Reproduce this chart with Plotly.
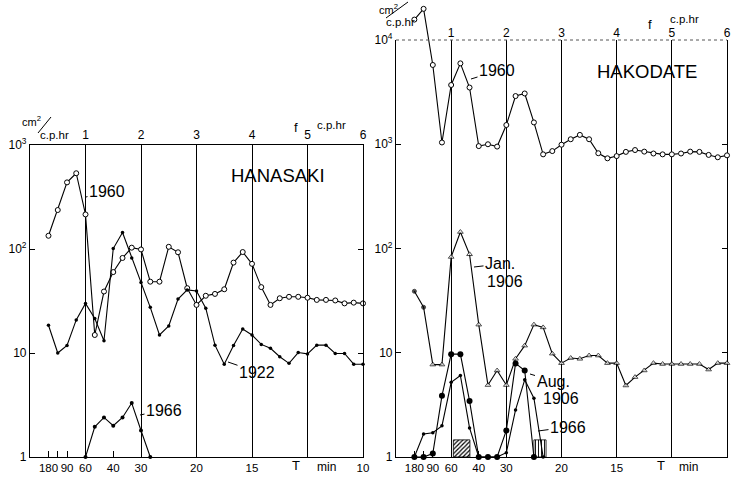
import plotly.graph_objects as go

# ---------------- data ----------------
# frequency grid (c.p.hr)
freq = [0.333, 0.5, 0.667, 0.833, 1.0, 1.167, 1.333, 1.5, 1.667, 1.833, 2.0, 2.167,
        2.333, 2.5, 2.667, 2.833, 3.0, 3.167, 3.333, 3.5, 3.667, 3.833, 4.0, 4.167,
        4.333, 4.5, 4.667, 4.833, 5.0, 5.167, 5.333, 5.5, 5.667, 5.833, 6.0]

# HANASAKI (cm^2 / c.p.hr)
han_1960 = [134, 237, 437, 535, 215, 14.9, 39, 60, 82, 103, 99, 48.5, 48.5, 105, 93, 42,
            29, 35.5, 37, 41, 74, 93.5, 72, 43, 29, 33.6, 34.7, 34.7, 34, 32.4, 32.4, 32,
            30, 30.5, 30]
han_1922 = [18.5, 10, 11.8, 20.8, 30, 21.5, 13.1, 101, 144, 82, 47.5, 27.5, 14.9, 18.2, 33,
            40.4, 39.5, 27, 11.9, 7.8, 11.8, 17, 14.9, 12.1, 11.1, 9.2, 7.95, 10.1, 9.8,
            11.9, 11.9, 9.9, 9.9, 7.8, 7.8]
han_1966_freq = [1.0, 1.167, 1.333, 1.5, 1.667, 1.833, 2.0, 2.167]
han_1966 = [1, 1.95, 2.4, 2.0, 2.4, 3.3, 1.8, 1]

# HAKODATE (cm^2 / c.p.hr)
hak_1960 = [15700, 19900, 5760, 1040, 3700, 5970, 3500, 960, 1000, 950, 1530, 2900, 3070,
            1620, 800, 860, 990, 1117, 1230, 1117, 820, 733, 770, 845, 880, 850, 815, 800,
            800, 815, 850, 845, 790, 750, 783]
hak_jan1906 = [38.9, 27.3, 7.7, 7.7, 83, 144, 88, 18.6, 4.9, 6.75, 4.9, 8.75, 11.7, 18.6,
               17.5, 9.8, 7.95, 8.9, 8.75, 9.4, 9.4, 7.95, 7.95, 4.85, 5.84, 6.76, 7.95,
               7.8, 7.8, 7.8, 7.8, 7.8, 6.9, 7.95, 7.95]
hak_aug1906_freq = freq[:14]
hak_aug1906 = [1, 1, 1.08, 3.86, 9.7, 9.7, 3.45, 1, 1, 1, 1.8, 7.9, 6.75, 1]
hak_1966_freq = freq[:15]
hak_1966 = [1, 1.66, 1.71, 1.99, 5.2, 6.05, 1.9, 1, 1, 1, 1.1, 2.83, 5.5, 3.66, 1]

# hatched boxes in HAKODATE panel
hatch_freq = [1.19, 2.61]
hatch_width = [0.3, 0.22]
hatch_top = [1.46, 1.46]

# axis ticks
period_freq = [0.333, 0.5, 0.667, 1.0, 1.5, 2.0, 3.0, 4.0, 6.0]
period_labels = ['180', '', '90', '60', '40', '30', '20', '15', '10']
freq_ticks = [1, 2, 3, 4, 5, 6]
freq_labels = ['1', '2', '3', '4', '5', '6']
han_yvals = [1, 10, 100, 1000]
han_ylabels = ['1', '10', '10<sup>2</sup>', '10<sup>3</sup>']
hak_yvals = [1, 10, 100, 1000, 10000]
hak_ylabels = ['1', '10', '10<sup>2</sup>', '10<sup>3</sup>', '10<sup>4</sup>']

# ---------------- layout geometry ----------------
W, H = 733, 479
ML, MR, MT, MB = 30, 6, 2, 22
PW = W - ML - MR
PH = H - MT - MB
BOTTOM = H - MB


def px(x):
    return (x - ML) / PW


def py(y):
    return (BOTTOM - y) / PH


xd1 = [0, px(363)]
xd2 = [px(396), 1]
yd1 = [0, py(145)]
yd2 = [0, py(40)]
y5_top = 4 / yd2[1]

FONT = 'Liberation Sans, Arial, sans-serif'
BLACK = 'black'

fig = go.Figure()

line = dict(color=BLACK, width=1.1)
open_circle = dict(symbol='circle', size=5, color='white', line=dict(color=BLACK, width=1))
small_dot = dict(symbol='circle', size=3.5, color=BLACK)


def sc(x, y, marker, xa, ya):
    return go.Scatter(x=x, y=y, mode='lines+markers', line=line, marker=marker,
                      xaxis=xa, yaxis=ya, cliponaxis=False, showlegend=False,
                      hoverinfo='skip')


# dummy traces to make frame subplots exist
fig.add_trace(go.Scatter(x=[None], y=[None], xaxis='x3', yaxis='y', showlegend=False))
fig.add_trace(go.Scatter(x=[None], y=[None], xaxis='x2', yaxis='y2', showlegend=False))
fig.add_trace(go.Scatter(x=[None], y=[None], xaxis='x4', yaxis='y2', showlegend=False))

# HANASAKI
fig.add_trace(sc(freq, han_1960, open_circle, 'x', 'y'))
fig.add_trace(sc(freq, han_1922, small_dot, 'x', 'y'))
fig.add_trace(sc(han_1966_freq, han_1966, dict(symbol='circle', size=4, color=BLACK), 'x', 'y'))

# HAKODATE
fig.add_trace(go.Bar(x=hatch_freq, y=[t - 1 for t in hatch_top], base=[1, 1], width=hatch_width,
                     xaxis='x5', yaxis='y5', showlegend=False, hoverinfo='skip',
                     marker=dict(color='white', line=dict(color=BLACK, width=0.8),
                                 pattern=dict(shape=['/', '|'], fgcolor=BLACK, bgcolor='white',
                                              size=[3, 3], solidity=[0.4, 0.3],
                                              fillmode='replace'))))
fig.add_trace(sc(freq, hak_1960, open_circle, 'x5', 'y5'))
jan_sym = ['circle', 'circle'] + ['triangle-up'] * (len(freq) - 2)
jan_col = [BLACK, BLACK] + ['white'] * (len(freq) - 2)
jan_size = [4, 4] + [5] * (len(freq) - 2)
fig.add_trace(sc(freq, hak_jan1906,
                 dict(symbol=jan_sym, color=jan_col, size=jan_size, line=dict(color=BLACK, width=1)),
                 'x5', 'y5'))
fig.add_trace(sc(hak_aug1906_freq, hak_aug1906, dict(symbol='circle', size=6, color=BLACK), 'x5', 'y5'))
fig.add_trace(sc(hak_1966_freq, hak_1966, small_dot, 'x5', 'y5'))

tickfont = dict(family=FONT, size=12, color=BLACK)


def bottom_axis(dom, anchor):
    return dict(domain=dom, range=[0, 6], anchor=anchor, tickmode='array', tickvals=period_freq,
                ticktext=period_labels, ticks='inside', ticklen=6, tickcolor=BLACK, tickwidth=1,
                showline=True, linecolor=BLACK, linewidth=1.2, showgrid=False, zeroline=False,
                tickfont=dict(family=FONT, size=11.5, color=BLACK), tickangle=0,
                automargin=False, fixedrange=True)


def top_axis(over, anchor, showline):
    return dict(overlaying=over, side='top', anchor=anchor, range=[0, 6], tickmode='array',
                tickvals=freq_ticks, ticktext=freq_labels, ticks='', showline=showline,
                linecolor=BLACK, linewidth=1.2, showgrid=True, gridcolor=BLACK, gridwidth=1.2,
                zeroline=False, tickfont=tickfont, tickangle=0, automargin=False, fixedrange=True)


def y_axis(dom, rng, vals, labels, anchor):
    return dict(domain=dom, type='log', range=rng, anchor=anchor, tickmode='array', tickvals=vals,
                ticktext=labels, ticks='inside', ticklen=5, tickcolor=BLACK, showline=True,
                mirror='ticks', linecolor=BLACK, linewidth=1.2, showgrid=False, zeroline=False,
                tickfont=tickfont, automargin=False, fixedrange=True)


fig.update_layout(
    width=W, height=H, margin=dict(l=ML, r=MR, t=MT, b=MB, autoexpand=False),
    paper_bgcolor='white', plot_bgcolor='rgba(0,0,0,0)', showlegend=False, barmode='overlay',
    font=dict(family=FONT, size=12, color=BLACK),
    xaxis=bottom_axis(xd1, 'y'),
    xaxis3=top_axis('x', 'y', True),
    yaxis=y_axis(yd1, [0, 3], han_yvals, han_ylabels, 'x'),
    xaxis2=bottom_axis(xd2, 'y2'),
    xaxis4=top_axis('x2', 'y2', False),
    yaxis2=y_axis(yd2, [0, 4], hak_yvals, hak_ylabels, 'x2'),
    xaxis5=dict(domain=xd2, range=[0, 6], anchor='y5', visible=False, fixedrange=True,
                automargin=False),
    yaxis5=dict(domain=[0, 1], type='log', range=[0, y5_top], anchor='x5', visible=False,
                fixedrange=True, automargin=False),
)

# dotted top frame line of HAKODATE panel
fig.add_shape(type='line', xref='x2 domain', yref='y2 domain', x0=0, x1=1, y0=1, y1=1,
              line=dict(color='#555', width=1, dash='dot'))
# unit slashes
fig.add_shape(type='line', xref='paper', yref='paper', x0=px(38), y0=py(133), x1=px(51), y1=py(117),
              line=dict(color=BLACK, width=1))
fig.add_shape(type='line', xref='paper', yref='paper', x0=px(386), y0=py(18), x1=px(408), y1=py(2),
              line=dict(color=BLACK, width=1))

annots = []


def txt(x, y, s, size=16, xanchor='center'):
    annots.append(dict(x=px(x), y=py(y), xref='paper', yref='paper', text=s, showarrow=False,
                       xanchor=xanchor, yanchor='middle', font=dict(family=FONT, size=size, color=BLACK)))


def lead(x, y, dx, dy, s, size=16):
    annots.append(dict(x=px(x), y=py(y), xref='paper', yref='paper', text=s, showarrow=True,
                       arrowhead=0, arrowwidth=1, arrowcolor=BLACK, ax=dx, ay=dy, standoff=0,
                       font=dict(family=FONT, size=size, color=BLACK)))


# HANASAKI labels
lead(86, 197, 21, -6, '1960')
lead(228, 362, 29, 10, '1922')
lead(140, 415, 24, -5, '1966')
txt(278, 175, 'HANASAKI', 18.5)
txt(31, 121, 'cm<sup>2</sup>', 11)
txt(54, 135, 'c.p.hr', 11.5)
txt(296, 127, 'f', 13)
txt(331, 125, 'c.p.hr', 11.5)
txt(296, 466, 'T', 13)
txt(326, 467, 'min', 12)

# HAKODATE labels
lead(471, 79, 26, -8, '1960')
lead(474, 267, 26, -3, 'Jan.')
txt(505, 281, '1906', 16)
lead(530, 374, 23, 7, 'Aug.')
txt(561, 398, '1906', 16)
lead(538, 431, 30, -4, '1966')
txt(647, 71, 'HAKODATE', 18.5)
txt(389, 9, 'cm<sup>2</sup>', 11)
txt(400, 22, 'c.p.hr', 11.5)
txt(650, 24, 'f', 13)
txt(684, 19, 'c.p.hr', 11.5)
txt(661, 466, 'T', 13)
txt(688, 467, 'min', 12)

fig.update_layout(annotations=annots)

fig.write_html('out.html')
